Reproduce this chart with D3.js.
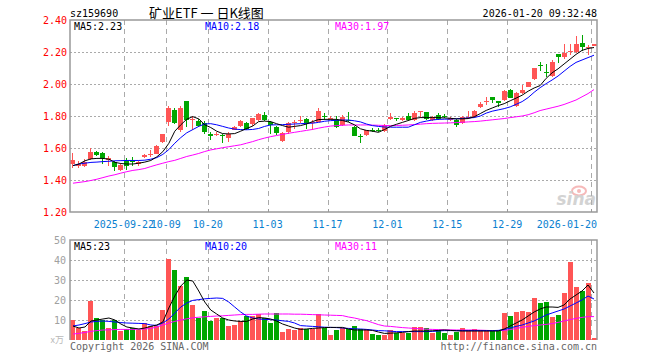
<!DOCTYPE html>
<html>
<head>
<meta charset="utf-8">
<script src="https://cdn.jsdelivr.net/npm/d3@7"></script>
<style>
  html, body { margin: 0; padding: 0; background: #fff; }
  svg text { font-family: "DejaVu Sans Mono", monospace; font-size: 10px; }
  .cjk { font-family: "Noto Sans CJK SC", sans-serif; }
</style>
</head>
<body>
<svg id="chart" width="660" height="360"></svg>
<script>
// ---- data ----
const dates = [
  '2025-09-09','2025-09-10','2025-09-11','2025-09-12','2025-09-15','2025-09-16','2025-09-17','2025-09-18','2025-09-19',
  '2025-09-22','2025-09-23','2025-09-24','2025-09-25','2025-09-26','2025-09-29','2025-09-30',
  '2025-10-09','2025-10-10','2025-10-13','2025-10-14','2025-10-15','2025-10-16','2025-10-17','2025-10-20','2025-10-21',
  '2025-10-22','2025-10-23','2025-10-24','2025-10-27','2025-10-28','2025-10-29','2025-10-30','2025-10-31',
  '2025-11-03','2025-11-04','2025-11-05','2025-11-06','2025-11-07','2025-11-10','2025-11-11','2025-11-12','2025-11-13',
  '2025-11-14','2025-11-17','2025-11-18','2025-11-19','2025-11-20','2025-11-21','2025-11-24','2025-11-25','2025-11-26',
  '2025-11-27','2025-11-28','2025-12-01','2025-12-02','2025-12-03','2025-12-04','2025-12-05','2025-12-08','2025-12-09',
  '2025-12-10','2025-12-11','2025-12-12','2025-12-15','2025-12-16','2025-12-17','2025-12-18','2025-12-19','2025-12-22',
  '2025-12-23','2025-12-24','2025-12-25','2025-12-26','2025-12-29','2025-12-30','2025-12-31','2026-01-05','2026-01-06',
  '2026-01-07','2026-01-08','2026-01-09','2026-01-12','2026-01-13','2026-01-14','2026-01-15','2026-01-16','2026-01-19',
  '2026-01-20'
];

const open = [1.50,1.49,1.49,1.53,1.575,1.567,1.525,1.515,1.465,1.52,1.525,1.50,1.545,1.56,1.565,1.635,
  1.765,1.84,1.71,1.894,1.775,1.77,1.755,1.69,1.685,1.68,1.66,1.715,1.735,1.755,1.75,1.775,1.806,
  1.765,1.733,1.646,1.70,1.754,1.773,1.783,1.76,1.765,1.798,1.783,1.775,1.744,1.778,1.733,1.672,1.681,
  1.714,1.713,1.708,1.781,1.79,1.775,1.80,1.775,1.83,1.825,1.775,1.806,1.80,1.775,1.775,1.754,1.79,
  1.796,1.854,1.888,1.917,1.892,1.90,1.9625,1.8625,1.946,1.983,2.029,2.117,2.075,2.05,2.1875,2.171,
  2.20,2.202,2.254,2.223,2.24];
const high = [1.567,1.52,1.53,1.598,1.58,1.575,1.55,1.52,1.50,1.54,1.545,1.52,1.565,1.59,1.62,1.69,
  1.86,1.85,1.86,1.894,1.80,1.78,1.77,1.70,1.70,1.685,1.70,1.735,1.775,1.76,1.79,1.82,1.823,
  1.77,1.74,1.70,1.76,1.775,1.80,1.79,1.775,1.848,1.817,1.80,1.80,1.806,1.825,1.74,1.685,1.715,
  1.725,1.725,1.75,1.817,1.79,1.796,1.817,1.83,1.833,1.825,1.80,1.82,1.815,1.795,1.78,1.80,1.833,
  1.835,1.89,1.921,1.92,1.895,1.9625,1.97,1.95,1.994,2.015,2.10,2.14,2.125,2.15,2.19,2.248,
  2.25,2.302,2.306,2.244,2.25];
const low = [1.473,1.475,1.48,1.525,1.55,1.50,1.49,1.458,1.458,1.465,1.485,1.49,1.54,1.545,1.56,1.63,
  1.74,1.75,1.70,1.733,1.71,1.73,1.69,1.65,1.675,1.63,1.64,1.71,1.73,1.715,1.74,1.77,1.77,
  1.69,1.68,1.64,1.69,1.72,1.754,1.72,1.71,1.76,1.775,1.775,1.725,1.74,1.765,1.675,1.629,1.675,
  1.70,1.70,1.70,1.775,1.77,1.77,1.77,1.77,1.79,1.775,1.77,1.775,1.785,1.77,1.729,1.75,1.78,
  1.79,1.85,1.87,1.879,1.854,1.895,1.91,1.854,1.94,1.98,2.025,2.081,2.042,2.046,2.133,2.154,
  2.181,2.196,2.208,2.181,2.235];
const close = [1.525,1.50,1.51,1.573,1.555,1.54,1.535,1.48,1.495,1.49,1.51,1.515,1.555,1.565,1.615,1.685,
  1.85,1.755,1.85,1.775,1.78,1.74,1.70,1.675,1.69,1.678,1.69,1.73,1.77,1.72,1.79,1.81,1.775,
  1.744,1.696,1.696,1.754,1.765,1.777,1.754,1.765,1.833,1.794,1.787,1.733,1.796,1.775,1.677,1.67,1.71,
  1.71,1.71,1.744,1.796,1.78,1.785,1.775,1.817,1.833,1.78,1.796,1.781,1.795,1.79,1.744,1.796,1.796,
  1.831,1.875,1.892,1.90,1.879,1.958,1.915,1.946,1.9625,2.0125,2.098,2.113,2.071,2.1375,2.171,2.196,
  2.204,2.25,2.233,2.233,2.248];

const ma5 = [1.49,1.50,1.52,1.532,1.535,1.535,1.53,1.51,1.503,1.50,1.50,1.505,1.512,1.522,1.545,1.577,
  1.629,1.705,1.745,1.78,1.796,1.782,1.745,1.728,1.705,1.69,1.688,1.69,1.705,1.722,1.737,1.765,1.768,
  1.765,1.752,1.74,1.73,1.735,1.74,1.75,1.765,1.778,1.779,1.779,1.779,1.772,1.762,1.745,1.72,1.71,
  1.705,1.698,1.715,1.735,1.748,1.76,1.772,1.785,1.79,1.79,1.79,1.79,1.788,1.786,1.782,1.782,1.784,
  1.795,1.815,1.835,1.85,1.865,1.877,1.895,1.912,1.93,1.955,1.975,1.99,2.035,2.07,2.095,2.125,
  2.155,2.185,2.21,2.222,2.228];
const ma10 = [1.49,1.50,1.505,1.51,1.512,1.515,1.517,1.52,1.521,1.522,1.522,1.522,1.524,1.53,1.54,1.56,
  1.59,1.63,1.665,1.695,1.715,1.735,1.75,1.752,1.745,1.735,1.725,1.718,1.715,1.714,1.716,1.722,1.735,
  1.744,1.745,1.746,1.748,1.75,1.752,1.754,1.755,1.76,1.767,1.771,1.773,1.775,1.775,1.77,1.763,1.75,
  1.74,1.735,1.731,1.73,1.73,1.73,1.73,1.745,1.76,1.768,1.775,1.779,1.78,1.781,1.783,1.785,1.788,
  1.79,1.80,1.818,1.83,1.838,1.846,1.857,1.873,1.89,1.915,1.948,1.977,2.002,2.025,2.05,2.08,
  2.11,2.135,2.15,2.165,2.18];
const ma30 = [1.38,1.385,1.39,1.397,1.405,1.415,1.425,1.433,1.443,1.452,1.46,1.465,1.472,1.484,1.495,1.505,
  1.515,1.523,1.535,1.547,1.556,1.566,1.578,1.588,1.595,1.602,1.608,1.614,1.62,1.63,1.64,1.652,1.662,
  1.671,1.678,1.685,1.692,1.698,1.704,1.71,1.716,1.724,1.731,1.737,1.74,1.742,1.744,1.744,1.744,1.744,
  1.743,1.742,1.741,1.74,1.741,1.742,1.744,1.746,1.749,1.752,1.754,1.755,1.756,1.757,1.759,1.761,1.763,
  1.765,1.768,1.772,1.776,1.78,1.784,1.79,1.795,1.80,1.808,1.82,1.834,1.843,1.852,1.861,1.872,
  1.886,1.90,1.92,1.94,1.965];

// volume, 万手
const volume = [10,5.8,4.5,19.7,10.8,10,5.8,10,4.5,5.3,6.2,5,8.3,7.2,7.2,15,
  40.5,35,27.2,31.7,17.5,11.2,14.5,9.7,11.2,11.2,7,7.5,9.7,12,12,12.8,10.8,
  8.7,13.3,4.2,5.5,5,6.2,5.3,5.3,12.8,6.2,2.5,5,6.2,5.3,7,5.5,5.5,
  3,2.5,2.5,5,3.3,3.3,3.7,6.3,6.3,5.8,3.7,5,3.7,2.5,4.2,6,5,
  5.5,5,4.5,4.5,4.5,13.7,12,14.2,14.5,14,21,18.7,19.2,11.7,12.5,23.3,
  39.2,26.7,24.7,28.7,1.2];
const vma5 = [7,6,6.5,9.5,10,10.5,11,10,8,6.5,6,5.5,6,6.8,7.5,9,
  16,22,27,30,29.5,24.5,19,15,13,11,10,9.5,9.3,9.3,10.5,11.2,11,
  10.5,9.5,8,7,6,5.3,5.5,5.8,6,6.2,6.3,6.3,6.3,5.5,5,5,5,
  4.8,4,3.3,3.4,3.6,3.8,4.2,4.5,4.5,4.5,4.6,4.8,5,4.8,4.6,4.5,4.5,
  4.5,4.5,4.5,4.5,4.5,5.5,7,8.5,10,12,14,15.5,16.5,16.5,16.3,17.5,
  20.5,22.5,24.5,27.5,23.5];
const vma10 = [7,7.5,8.2,9,9.3,9.5,9.3,9,8.7,8.5,8.4,8.3,8.2,7.5,7.3,8.5,
  10.5,13.5,16.5,18.5,19.8,20.2,20.6,20.8,21,20.8,19,16.5,14,12,11,10.5,10.3,
  10.2,10,9.6,9.3,8.5,7.2,7,6.8,6.6,6.4,6.3,6.2,6,5.8,5.6,5.5,5.3,
  5,4.7,4.6,4.4,4.2,4.2,4.2,4.2,4.2,4.2,4.3,4.5,4.7,4.7,4.7,4.7,4.7,
  4.7,4.7,4.7,4.7,4.8,5.2,6,6.8,7.5,8.5,9.5,11,12.5,13.5,14.5,15.5,
  17,18.5,20,22,20.5];
const vma30 = [3,3.3,3.8,4.3,4.7,5,5.1,5.2,5.3,5.3,5.3,5.4,5.5,5.8,6.5,7.5,
  8.5,9.3,10,10.6,11.1,11.4,11.6,11.8,12,12.1,12.3,12.5,12.7,12.8,12.8,12.9,13,
  13,13,13,13,12.9,12.9,12.8,12.7,12.6,12.5,12.4,12.3,12.2,11.5,11,10.3,9.7,
  8.7,7.7,7,6.8,6.5,6.2,6,5.8,5.6,5.4,5.3,5.2,5.1,5.1,5,5,5,
  5,4.9,4.8,4.7,4.7,4.8,5.2,5.8,6.3,6.8,7.2,7.5,7.8,8.2,8.8,9.5,
  10.2,10.8,11.3,11.7,11.7];

const priceTicks = [1.20, 1.40, 1.60, 1.80, 2.00, 2.20, 2.40];
const volTicks = [10, 20, 30, 40, 50];
const dateTicks = [
  ['2025-09-22', '2025-09-22'], ['2025-10-09', '10-09'], ['2025-10-20', '10-20'],
  ['2025-11-03', '11-03'], ['2025-11-17', '11-17'], ['2025-12-01', '12-01'],
  ['2025-12-15', '12-15'], ['2025-12-29', '12-29'], ['2026-01-20', '2026-01-20']
];
const priceLegend = [['MA5:2.23', '#000'], ['MA10:2.18', '#0000ff'], ['MA30:1.97', '#ff00ff']];
const volLegend = [['MA5:23', '#000'], ['MA10:20', '#0000ff'], ['MA30:11', '#ff00ff']];

// ---- layout ----
const L = 70, R = 597;
const P_TOP = 20, P_BOT = 212;
const V_TOP = 240, V_BOT = 340;
const RED = '#ff5555', GREEN = '#00a600';
const GRID = '#aaaaaa', FRAME = '#999999';

const svg = d3.select('#chart');

const x = d3.scaleBand().domain(dates).range([L, R]).padding(0);
const cx = d => x(d) + x.bandwidth() / 2;
const yP = d3.scaleLinear().domain([1.2, 2.4]).range([P_BOT, P_TOP]);
const yV = d3.scaleLinear().domain([0, 50]).range([V_BOT, V_TOP]);

const idx = d3.range(dates.length);
const up = i => close[i] >= open[i];

// header
svg.append('text').attr('x', 70).attr('y', 17).text('sz159690');
svg.append('text').attr('class', 'cjk').attr('x', 149).attr('y', 18)
  .style('font-size', '13px').text('矿业ETF 一 日K线图');
svg.append('text').attr('x', R).attr('y', 17).attr('text-anchor', 'end').text('2026-01-20 09:32:48');

function panelGrid(y, ticks, top, bot) {
  const g = svg.append('g').attr('shape-rendering', 'crispEdges');
  g.selectAll('line.h').data(ticks).join('line')
    .attr('x1', L).attr('x2', R)
    .attr('y1', d => Math.round(y(d)) + 0.5).attr('y2', d => Math.round(y(d)) + 0.5)
    .attr('stroke', GRID).attr('stroke-dasharray', '2,2');
  g.selectAll('line.v').data(dateTicks).join('line')
    .attr('x1', d => Math.round(x(d[0])) + 0.5).attr('x2', d => Math.round(x(d[0])) + 0.5)
    .attr('y1', top).attr('y2', bot)
    .attr('stroke', GRID).attr('stroke-dasharray', '5,4');
}

// ---- price panel ----
panelGrid(yP, [1.4, 1.6, 1.8, 2.0, 2.2], P_TOP, P_BOT);

const yAxis = d3.axisLeft(yP).tickValues(priceTicks).tickSize(0).tickPadding(3).tickFormat(d3.format('.2f'));
svg.append('g').attr('transform', `translate(${L},0)`).call(yAxis)
  .call(g => g.select('.domain').remove())
  .call(g => g.selectAll('text').attr('fill', '#ff0000').style('font-family', '"DejaVu Sans Mono", monospace').style('font-size', '10px'));

// bottom ticks
svg.append('g').attr('shape-rendering', 'crispEdges').selectAll('line').data(dateTicks).join('line')
  .attr('x1', d => Math.round(x(d[0])) + 0.5).attr('x2', d => Math.round(x(d[0])) + 0.5)
  .attr('y1', P_BOT - 3).attr('y2', P_BOT).attr('stroke', FRAME);

// x labels (the first two overlap in the original too)
svg.append('g').selectAll('text').data(dateTicks).join('text')
  .attr('x', d => {
    const w = d[1].length * 6.02;
    const c = x(d[0]);
    return c + w / 2 > R ? R - w / 2 : c;
  })
  .attr('y', 228).attr('text-anchor', 'middle').attr('fill', '#0a7fd0').text(d => d[1]);

// watermark
const wm = svg.append('g').attr('opacity', 0.55);
wm.append('ellipse').attr('cx', 579).attr('cy', 191).attr('rx', 7).attr('ry', 4.5)
  .attr('fill', 'none').attr('stroke', '#f08080').attr('stroke-width', 2);
wm.append('circle').attr('cx', 579).attr('cy', 191).attr('r', 2).attr('fill', '#f08080');
wm.append('text').attr('x', 596).attr('y', 205).attr('text-anchor', 'end')
  .style('font-family', '"DejaVu Sans", sans-serif').style('font-size', '17px')
  .style('font-style', 'italic').style('font-weight', 'bold').attr('fill', '#b0b0b0').text('sina');

// candles
const cg = svg.append('g').attr('shape-rendering', 'crispEdges');
cg.selectAll('line.wick').data(idx).join('line')
  .attr('x1', i => Math.floor(cx(dates[i])) + 0.5).attr('x2', i => Math.floor(cx(dates[i])) + 0.5)
  .attr('y1', i => yP(high[i])).attr('y2', i => yP(low[i]))
  .attr('stroke', i => up(i) ? RED : GREEN);
cg.selectAll('rect.body').data(idx).join('rect')
  .attr('x', i => Math.floor(cx(dates[i])) - 2)
  .attr('width', 5)
  .attr('y', i => yP(Math.max(open[i], close[i])))
  .attr('height', i => Math.max(1, Math.abs(yP(open[i]) - yP(close[i]))))
  .attr('fill', i => up(i) ? RED : GREEN);

const lineP = d3.line().x((d, i) => cx(dates[i])).y(d => yP(d));
[[ma30, '#ff00ff'], [ma10, '#0000ff'], [ma5, '#000000']].forEach(([s, c]) => {
  svg.append('path').datum(s).attr('d', lineP).attr('fill', 'none').attr('stroke', c).attr('stroke-width', 1);
});

// frame
svg.append('rect').attr('x', L).attr('y', P_TOP).attr('width', R - L).attr('height', P_BOT - P_TOP)
  .attr('fill', 'none').attr('stroke', FRAME).attr('stroke-width', 1.5);

svg.append('g').selectAll('text').data(priceLegend).join('text')
  .attr('x', (d, i) => [74, 205, 335][i]).attr('y', 30).attr('fill', d => d[1]).text(d => d[0]);

// ---- volume panel ----
panelGrid(yV, [10, 20, 30, 40], V_TOP, V_BOT);

const vAxis = d3.axisLeft(yV).tickValues(volTicks).tickSize(0).tickPadding(4).tickFormat(d3.format('d'));
svg.append('g').attr('transform', `translate(${L},0)`).call(vAxis)
  .call(g => g.select('.domain').remove())
  .call(g => g.selectAll('text').attr('fill', '#a0a0a0').style('font-family', '"DejaVu Sans Mono", monospace').style('font-size', '10px'));
svg.append('text').attr('class', 'cjk').attr('x', 64).attr('y', 343).attr('text-anchor', 'end')
  .attr('fill', '#b8b8b8').style('font-size', '9px').text('x万');

svg.append('g').attr('shape-rendering', 'crispEdges').selectAll('rect').data(idx).join('rect')
  .attr('x', i => Math.floor(cx(dates[i])) - 2).attr('width', 5)
  .attr('y', i => yV(volume[i])).attr('height', i => V_BOT - yV(volume[i]))
  .attr('fill', i => up(i) ? RED : GREEN);

const lineV = d3.line().x((d, i) => cx(dates[i])).y(d => yV(d));
[[vma30, '#ff00ff'], [vma10, '#0000ff'], [vma5, '#000000']].forEach(([s, c]) => {
  svg.append('path').datum(s).attr('d', lineV).attr('fill', 'none').attr('stroke', c).attr('stroke-width', 1);
});

svg.append('path').attr('d', `M${L},${V_BOT}V${V_TOP}H${R}V${V_BOT}`)
  .attr('fill', 'none').attr('stroke', FRAME).attr('stroke-width', 1.5);

svg.append('g').selectAll('text').data(volLegend).join('text')
  .attr('x', (d, i) => [74, 205, 335][i]).attr('y', 250).attr('fill', d => d[1]).text(d => d[0]);

svg.append('text').attr('x', 70).attr('y', 350).attr('fill', '#666').text('Copyright 2026 SINA.COM');
svg.append('text').attr('x', R).attr('y', 350).attr('text-anchor', 'end').attr('fill', '#666').text('http://finance.sina.com.cn');
</script>
</body>
</html>
